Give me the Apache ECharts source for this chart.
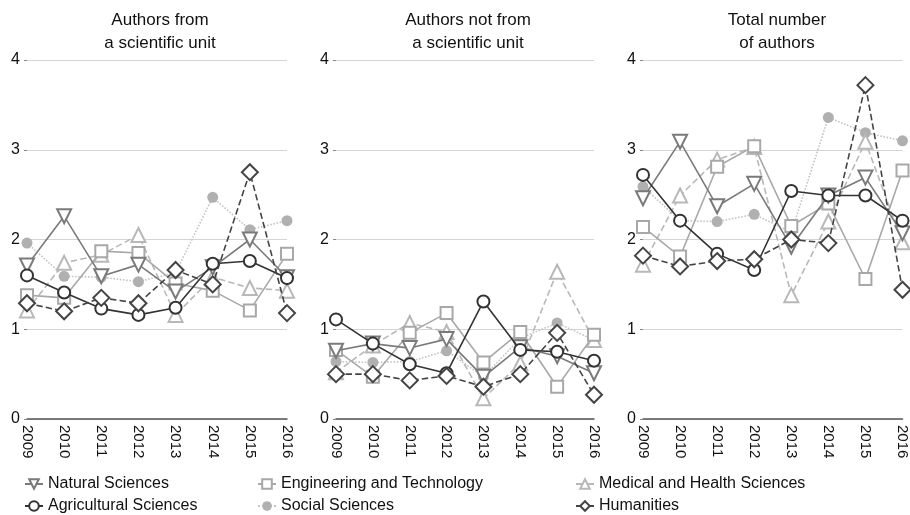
<!DOCTYPE html>
<html><head><meta charset="utf-8">
<script src="https://cdn.jsdelivr.net/npm/echarts@6/dist/echarts.min.js"></script>
<style>html,body{margin:0;padding:0;background:#fff}#c{width:910px;height:515px}</style>
</head><body><div id="c"></div>
<script>
const years = ['2009','2010','2011','2012','2013','2014','2015','2016'];
const yTicks = [0,1,2,3,4];
const panelTitles = ['Authors from\na scientific unit','Authors not from\na scientific unit','Total number\nof authors'];
const seriesNames = ['Natural Sciences','Agricultural Sciences','Engineering and Technology','Social Sciences','Medical and Health Sciences','Humanities'];

// Panel 1: authors from a scientific unit
const natural1 = [1.71, 2.26, 1.59, 1.72, 1.42, 1.69, 2.00, 1.58];
const agri1    = [1.60, 1.41, 1.23, 1.16, 1.24, 1.73, 1.76, 1.57];
const eng1     = [1.38, 1.35, 1.87, 1.85, 1.51, 1.43, 1.21, 1.84];
const soc1     = [1.96, 1.59, 1.58, 1.53, 1.63, 2.47, 2.11, 2.21];
const med1     = [1.21, 1.74, 1.83, 2.05, 1.16, 1.58, 1.46, 1.43];
const hum1     = [1.29, 1.20, 1.35, 1.29, 1.66, 1.50, 2.75, 1.18];
// Panel 2: authors not from a scientific unit
const natural2 = [0.76, 0.84, 0.79, 0.89, 0.47, 0.80, 0.70, 0.51];
const agri2    = [1.11, 0.84, 0.61, 0.51, 1.31, 0.77, 0.75, 0.65];
const eng2     = [0.77, 0.47, 0.96, 1.18, 0.63, 0.97, 0.36, 0.94];
const soc2     = [0.64, 0.63, 0.64, 0.76, 0.47, 0.90, 1.07, 0.88];
const med2     = [0.52, 0.82, 1.07, 0.97, 0.23, 0.62, 1.64, 0.88];
const hum2     = [0.50, 0.50, 0.43, 0.48, 0.36, 0.50, 0.96, 0.27];
// Panel 3: total number of authors
const natural3 = [2.46, 3.09, 2.37, 2.62, 1.92, 2.49, 2.69, 2.07];
const agri3    = [2.72, 2.21, 1.84, 1.66, 2.54, 2.49, 2.49, 2.21];
const eng3     = [2.14, 1.81, 2.81, 3.04, 2.15, 2.40, 1.56, 2.77];
const soc3     = [2.59, 2.21, 2.20, 2.28, 2.08, 3.36, 3.19, 3.10];
const med3     = [1.72, 2.49, 2.89, 3.03, 1.38, 2.20, 3.09, 1.97];
const hum3     = [1.82, 1.70, 1.76, 1.78, 2.00, 1.96, 3.72, 1.44];

const panels = [
  [natural1, agri1, eng1, soc1, med1, hum1],
  [natural2, agri2, eng2, soc2, med2, hum2],
  [natural3, agri3, eng3, soc3, med3, hum3]
];

const styles = [
  {color:'#7a7a7a', type:'solid',  symbol:'emptyTriangle', rotate:180, size:14, z:5},
  {color:'#333333', type:'solid',  symbol:'emptyCircle', rotate:0, size:12, z:6},
  {color:'#a8a8a8', type:'solid',  symbol:'emptyRect', rotate:0, size:12, z:4},
  {color:'#c4c4c4', type:'dotted', symbol:'circle', rotate:0, size:11, fill:'#b0b0b0', z:2},
  {color:'#b8b8b8', type:'dashed', symbol:'emptyTriangle', rotate:0, size:14, z:3},
  {color:'#444444', type:'dashed', symbol:'emptyDiamond', rotate:0, size:16, z:7}
];

const FONT = 'Liberation Sans, Arial, Helvetica, sans-serif';
const grids = [{left:27,width:260},{left:336,width:258},{left:643,width:260}];
const titleCenters = [155, 463, 772];

const option = {
  animation:false,
  backgroundColor:'#fff',
  textStyle:{fontFamily:FONT},
  title: panelTitles.map((t,i)=>({
    text:t, left:titleCenters[i], top:4, textAlign:'center',
    textStyle:{fontFamily:FONT,fontSize:17,fontWeight:'normal',color:'#111',lineHeight:23}
  })),
  grid: grids.map(g=>({left:g.left,width:g.width,top:60,height:359})),
  xAxis: grids.map((g,i)=>({
    type:'category', gridIndex:i, data:years, boundaryGap:false,
    axisLine:{show:true,lineStyle:{color:'#555',width:1.5}},
    axisTick:{show:false},
    axisLabel:{rotate:-90,margin:6,fontSize:15,color:'#111',fontFamily:FONT,interval:0}
  })),
  yAxis: grids.map((g,i)=>({
    type:'value', gridIndex:i, min:yTicks[0], max:yTicks[yTicks.length-1], interval:1,
    axisLine:{show:false},
    axisTick:{show:true,length:3,lineStyle:{color:'#888'}},
    axisLabel:{margin:7,fontSize:16,color:'#111',fontFamily:FONT},
    splitLine:{show:true,lineStyle:{color:'#d4d4d4',width:1}}
  })),
  legend: [
    {left:24, names:[seriesNames[0],seriesNames[1]]},
    {left:257, names:[seriesNames[2],seriesNames[3]]},
    {left:575, names:[seriesNames[4],seriesNames[5]]}
  ].map(l=>({
    orient:'vertical', left:l.left, top:476, height:40, padding:0, itemGap:6, itemWidth:18, itemHeight:12,
    data:l.names, selectedMode:false,
    textStyle:{fontSize:16,color:'#111',fontFamily:FONT,lineHeight:16}
  })),
  series: []
};

panels.forEach((vals,pi)=>{
  vals.forEach((arr,si)=>{
    const s = styles[si];
    option.series.push({
      type:'line', name:seriesNames[si], xAxisIndex:pi, yAxisIndex:pi,
      data:arr, symbol:s.symbol, symbolSize:s.size, symbolRotate:s.rotate,
      showAllSymbol:true,
      lineStyle:{color:s.color,width:1.6,type:s.type},
      itemStyle:{color: s.fill || s.color, borderColor: s.fill ? s.fill : s.color, borderWidth: s.fill?0:1.6},
      z: s.z
    });
  });
});

const chart = echarts.init(document.getElementById('c'),null,{renderer:'canvas'});
chart.setOption(option);
</script></body></html>
